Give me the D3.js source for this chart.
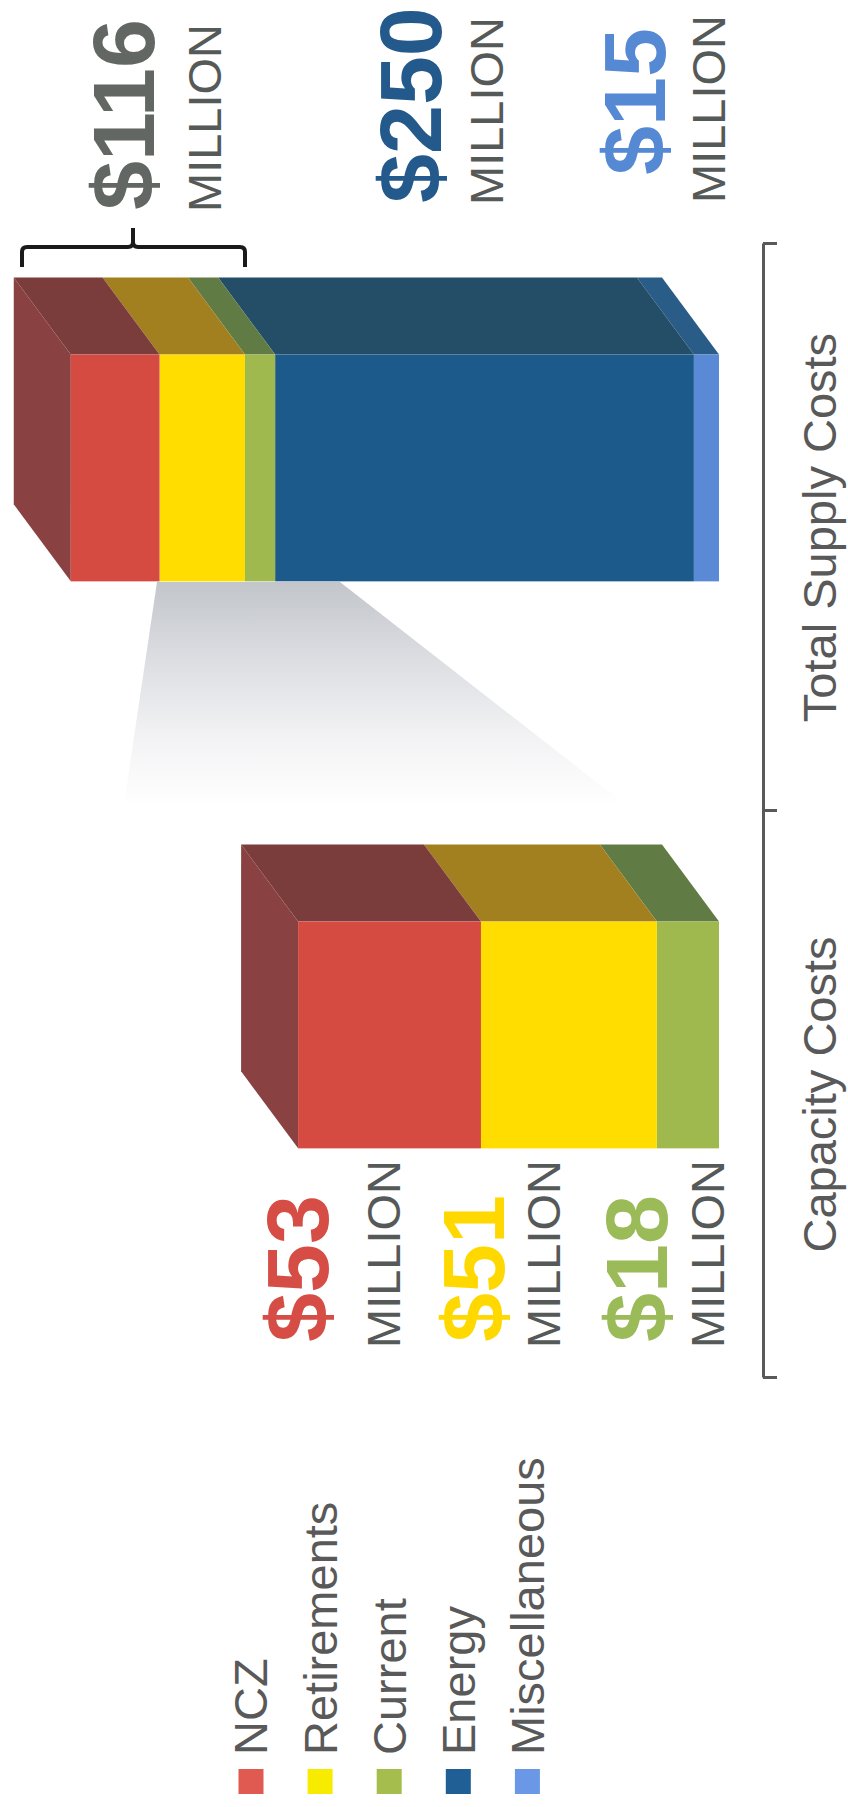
<!DOCTYPE html>
<html><head><meta charset="utf-8">
<script src="https://cdn.jsdelivr.net/npm/d3@7"></script>
<style>
html,body{margin:0;padding:0;background:#fff;}
svg{display:block;font-family:"Liberation Sans",Arial,sans-serif;}
</style>
</head><body><div id="chart"></div>
<script>
// ---------- data ----------
const categories = ["Capacity Costs", "Total Supply Costs"];
const seriesNames = ["NCZ", "Retirements", "Current", "Energy", "Miscellaneous"];
const nczValues = [53, 53];
const retirementValues = [51, 51];
const currentValues = [18, 18];
const energyValues = [0, 250];
const miscValues = [0, 15];
const stackOrder = ["Miscellaneous", "Energy", "Current", "Retirements", "NCZ"];
const frontColors = ["#d54b41", "#ffdd00", "#a0b94f", "#1d5a8c", "#5a8ad6"];
const sideColors = ["#7b3d3b", "#a3801f", "#607c44", "#244d67", "#2a5c88"];
const topFaceColor = "#8a4141";
const legendColors = ["#e05a52", "#f7ec00", "#a4bd4c", "#1f5f96", "#6a98e6"];
const totalAnnotations = ["$116", "$250", "$15"];
const totalAnnotationColors = ["#636764", "#24598b", "#5589d4"];
const capacityAnnotations = ["$53", "$51", "$18"];
const capacityAnnotationColors = ["#d64d45", "#ffd800", "#9bbb59"];
const unitWord = "MILLION";

// ---------- layout ----------
const PW = 848, PH = 1807;
const svg = d3.select("#chart").append("svg").attr("width", PW).attr("height", PH);

// callout (page coordinates, decorative)
const defs = svg.append("defs");
const grad = defs.append("linearGradient").attr("id", "callout")
  .attr("x1", 0).attr("y1", 0).attr("x2", 0).attr("y2", 1);
grad.append("stop").attr("offset", "0%").attr("stop-color", "#c2c5ca");
grad.append("stop").attr("offset", "30%").attr("stop-color", "#dcdee2");
grad.append("stop").attr("offset", "60%").attr("stop-color", "#f3f3f5");
grad.append("stop").attr("offset", "85%").attr("stop-color", "#ffffff");
svg.append("path").attr("fill", "url(#callout)")
  .attr("d", "M157,582 L340,582 L677,845 L118,845 Z");

// rotated chart frame: local (u,v) -> page (v, PH-u)
const g = svg.append("g").attr("transform", `translate(0,${PH}) rotate(-90)`);

const data = categories.map((c, i) => ({
  category: c,
  NCZ: nczValues[i], Retirements: retirementValues[i], Current: currentValues[i],
  Energy: energyValues[i], Miscellaneous: miscValues[i]
}));
const stacked = d3.stack().keys(stackOrder)(data);

const x = d3.scaleBand().domain(categories).range([429, 1563]);
const yTotal = d3.scaleLinear().domain([0, 400]).range([719, 49]);
const yCapacity = d3.scaleLinear().domain([0, 200]).range([719, 29]);
const yFor = c => c === "Capacity Costs" ? yCapacity : yTotal;

const depthU = 77, depthV = -57;
const bw = x.bandwidth();
const faceStart = c => x(c) + bw * 0.405;
const faceW = bw * 0.40;

const barsG = g.append("g");
categories.forEach((c, ci) => {
  const y = yFor(c);
  const u0 = faceStart(c), u1 = u0 + faceW;
  const segs = stacked.map(s => ({key: s.key, y0: s[ci][0], y1: s[ci][1]}))
    .filter(d => d.y1 > d.y0);
  const bar = barsG.append("g");
  // side faces
  bar.selectAll("path.side").data(segs).join("path").attr("class", "side")
    .attr("fill", d => sideColors[seriesNames.indexOf(d.key)])
    .attr("d", d => {
      const a = y(d.y1), b = y(d.y0);
      return `M${u1},${a}L${u1 + depthU},${a + depthV}L${u1 + depthU},${b + depthV}L${u1},${b}Z`;
    });
  // top face
  const topVal = d3.max(segs, d => d.y1);
  const vt = y(topVal);
  bar.append("path").attr("fill", topFaceColor)
    .attr("d", `M${u0},${vt}L${u1},${vt}L${u1 + depthU},${vt + depthV}L${u0 + depthU},${vt + depthV}Z`);
  // front faces
  bar.selectAll("rect.front").data(segs).join("rect").attr("class", "front")
    .attr("x", u0).attr("width", faceW)
    .attr("y", d => y(d.y1)).attr("height", d => y(d.y0) - y(d.y1))
    .attr("fill", d => frontColors[seriesNames.indexOf(d.key)]);
});

// category axis
const edge = d3.scaleLinear().domain([0, categories.length]).range(x.range());
const axisG = g.append("g").attr("transform", "translate(0,763)")
  .call(d3.axisBottom(edge).tickValues(d3.range(categories.length + 1))
    .tickSize(14).tickSizeOuter(0).tickFormat(""));
axisG.select(".domain").attr("stroke", "#595959").attr("stroke-width", 3);
axisG.selectAll(".tick line").attr("stroke", "#595959").attr("stroke-width", 3);
const labG = g.append("g").attr("transform", "translate(0,763)")
  .call(d3.axisBottom(x).tickSize(0));
labG.select(".domain").remove();
labG.selectAll("text").attr("y", 73).attr("dy", 0)
  .attr("font-size", 47).attr("fill", "#595959")
  .attr("font-family", "Liberation Sans, Arial, sans-serif");

// annotations (local coords: u along text, v = baseline)
const ann = g.append("g");
const topPos = [[1597, 154, 1595, 221], [1604, 441, 1602, 503], [1632, 665, 1604, 725]];
totalAnnotations.forEach((t, i) => {
  const p = topPos[i];
  ann.append("text").attr("x", p[0]).attr("y", p[1]).text(t)
    .attr("font-size", 88).attr("font-weight", "bold").attr("fill", totalAnnotationColors[i]);
  ann.append("text").attr("x", p[2]).attr("y", p[3]).text(unitWord)
    .attr("font-size", 47).attr("fill", "#555958");
});
const botPos = [[465, 328, 459, 400], [465, 504, 459, 560], [465, 667, 459, 724]];
capacityAnnotations.forEach((t, i) => {
  const p = botPos[i];
  ann.append("text").attr("x", p[0]).attr("y", p[1]).text(t)
    .attr("font-size", 88).attr("font-weight", "bold").attr("fill", capacityAnnotationColors[i]);
  ann.append("text").attr("x", p[2]).attr("y", p[3]).text(unitWord)
    .attr("font-size", 47).attr("fill", "#555958");
});

// legend
const leg = g.append("g");
seriesNames.forEach((s, i) => {
  const vc = 251 + i * 69.1;
  leg.append("rect").attr("x", 13).attr("y", vc - 12.5).attr("width", 25).attr("height", 25)
    .attr("fill", legendColors[i]);
  leg.append("text").attr("x", 52).attr("y", vc).attr("dy", "0.35em").text(s)
    .attr("font-size", 47).attr("fill", "#595959");
});

// bracket (page coords)
svg.append("path").attr("fill", "none").attr("stroke", "#1a1a1a").attr("stroke-width", 4)
  .attr("d", "M22,267V252Q22,247 27,247H128Q133,247 133,242V228M133,242Q133,247 138,247H240Q245,247 245,252V267");
</script>
</body></html>
